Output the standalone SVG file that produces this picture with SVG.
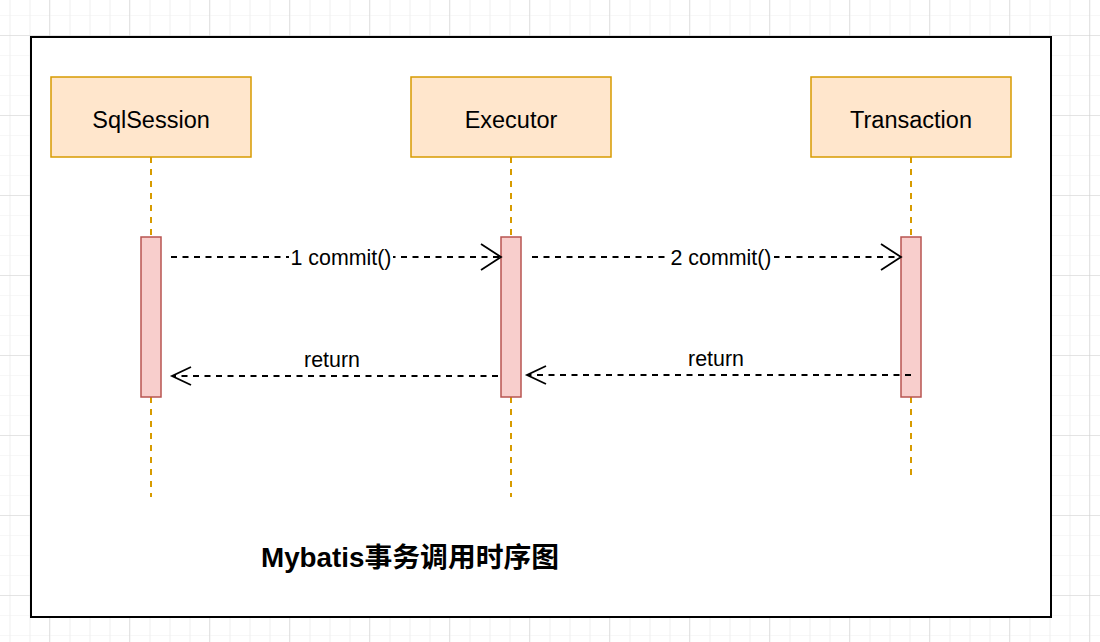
<svg xmlns="http://www.w3.org/2000/svg" width="1100" height="642" viewBox="0 0 1100 642">
  <defs>
    <pattern id="minor" width="20" height="20" patternUnits="userSpaceOnUse" x="0" y="-4">
      <path d="M10 0V20M0 20H20" stroke="#efefef" stroke-width="1" fill="none"/>
    </pattern>
    <pattern id="major" width="80" height="80" patternUnits="userSpaceOnUse" x="-30" y="-44">
      <path d="M80 0V80M0 80H80" stroke="#d0d0d0" stroke-width="1" fill="none"/>
    </pattern>
    <marker id="openBig" markerUnits="userSpaceOnUse" markerWidth="24" markerHeight="30" refX="21" refY="14" orient="auto" overflow="visible">
      <path d="M1 1L21 14L1 27" fill="none" stroke="#000" stroke-width="1.8"/>
    </marker>
    <marker id="openSmall" markerUnits="userSpaceOnUse" markerWidth="22" markerHeight="22" refX="20" refY="10" orient="auto" overflow="visible">
      <path d="M1 1L20 10L1 19" fill="none" stroke="#000" stroke-width="1.8"/>
    </marker>
  </defs>
  <style>
    .head { fill: #ffe6cc; stroke: #d79b00; stroke-width: 1.5; }
    .life { stroke: #d79b00; stroke-width: 2; stroke-dasharray: 6 6; fill: none; }
    .act { fill: #f8cecc; stroke: #b85450; stroke-width: 1.5; }
    .msg { stroke: #000; stroke-width: 1.8; stroke-dasharray: 6 5.5; fill: none; }
    .ht { font-family: Helvetica, "Liberation Sans", Arial, sans-serif; font-size: 23.5px; fill: #000; text-anchor: middle; }
    .lt { font-family: Helvetica, "Liberation Sans", Arial, sans-serif; font-size: 21.4px; fill: #000; text-anchor: middle; }
    .title { font-family: Helvetica, "Liberation Sans", Arial, "Noto Sans CJK SC", sans-serif; font-size: 27.8px; font-weight: bold; fill: #000; }
  </style>
  <rect width="1100" height="642" fill="#ffffff"/>
  <rect width="1100" height="642" fill="url(#minor)"/>
  <rect width="1100" height="642" fill="url(#major)"/>
  <rect id="frame" x="31" y="37" width="1020" height="580" fill="#ffffff" stroke="#000" stroke-width="2"/>

  <g id="sqlsession">
    <line class="life" x1="151" y1="157" x2="151" y2="497"/>
    <rect class="head" x="51" y="77" width="200" height="80"/>
    <text class="ht" x="151" y="128">SqlSession</text>
    <rect class="act" x="141" y="237" width="20" height="160"/>
  </g>
  <g id="executor">
    <line class="life" x1="511" y1="157" x2="511" y2="497"/>
    <rect class="head" x="411" y="77" width="200" height="80"/>
    <text class="ht" x="511" y="128">Executor</text>
    <rect class="act" x="501" y="237" width="20" height="160"/>
  </g>
  <g id="transaction">
    <line class="life" x1="911" y1="157" x2="911" y2="476"/>
    <rect class="head" x="811" y="77" width="200" height="80"/>
    <text class="ht" x="911" y="128">Transaction</text>
    <rect class="act" x="901" y="237" width="20" height="160"/>
  </g>

  <g id="connectors">
    <line class="msg" x1="171" y1="257" x2="501" y2="257" marker-end="url(#openBig)"/>
    <rect x="289" y="248" width="104" height="20" fill="#ffffff"/>
    <text class="lt" x="341" y="265">1 commit()</text>

    <line class="msg" x1="532" y1="257" x2="901" y2="257" marker-end="url(#openBig)"/>
    <rect x="669" y="248" width="105" height="20" fill="#ffffff"/>
    <text class="lt" x="721" y="265">2 commit()</text>

    <line class="msg" x1="498" y1="376" x2="172" y2="376" marker-end="url(#openSmall)"/>
    <text class="lt" x="332" y="367">return</text>

    <line class="msg" x1="911" y1="375" x2="527" y2="375" marker-end="url(#openSmall)"/>
    <text class="lt" x="716" y="366">return</text>
  </g>

  <text id="title" class="title" x="261" y="567">Mybatis事务调用时序图</text>
</svg>
